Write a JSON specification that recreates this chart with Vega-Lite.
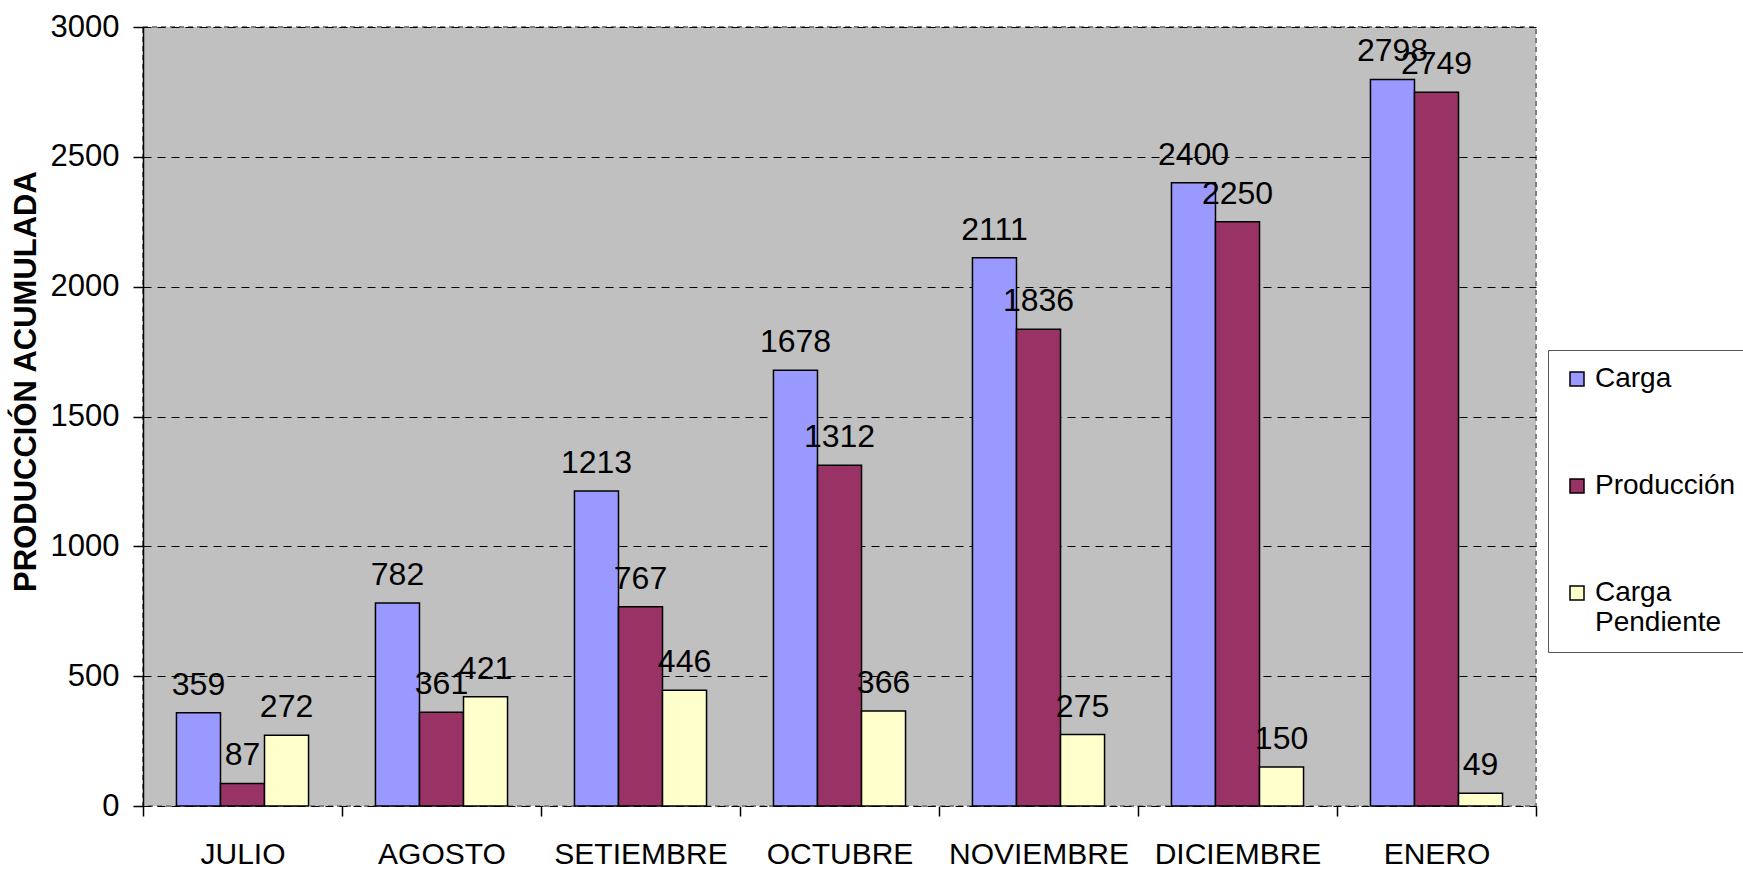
{
  "$schema": "https://vega.github.io/schema/vega-lite/v6.json",
  "autosize": {"type": "none"},
  "width": 1393,
  "height": 779,
  "padding": {"left": 143, "top": 27, "right": 207, "bottom": 66},
  "background": "white",
  "data": {"values": [
    {"mes": "JULIO", "serie": "Carga", "valor": 359},
    {"mes": "JULIO", "serie": "Producción", "valor": 87},
    {"mes": "JULIO", "serie": "Carga Pendiente", "valor": 272},
    {"mes": "AGOSTO", "serie": "Carga", "valor": 782},
    {"mes": "AGOSTO", "serie": "Producción", "valor": 361},
    {"mes": "AGOSTO", "serie": "Carga Pendiente", "valor": 421},
    {"mes": "SETIEMBRE", "serie": "Carga", "valor": 1213},
    {"mes": "SETIEMBRE", "serie": "Producción", "valor": 767},
    {"mes": "SETIEMBRE", "serie": "Carga Pendiente", "valor": 446},
    {"mes": "OCTUBRE", "serie": "Carga", "valor": 1678},
    {"mes": "OCTUBRE", "serie": "Producción", "valor": 1312},
    {"mes": "OCTUBRE", "serie": "Carga Pendiente", "valor": 366},
    {"mes": "NOVIEMBRE", "serie": "Carga", "valor": 2111},
    {"mes": "NOVIEMBRE", "serie": "Producción", "valor": 1836},
    {"mes": "NOVIEMBRE", "serie": "Carga Pendiente", "valor": 275},
    {"mes": "DICIEMBRE", "serie": "Carga", "valor": 2400},
    {"mes": "DICIEMBRE", "serie": "Producción", "valor": 2250},
    {"mes": "DICIEMBRE", "serie": "Carga Pendiente", "valor": 150},
    {"mes": "ENERO", "serie": "Carga", "valor": 2798},
    {"mes": "ENERO", "serie": "Producción", "valor": 2749},
    {"mes": "ENERO", "serie": "Carga Pendiente", "valor": 49}
  ]},
  "encoding": {
    "x": {
      "field": "mes", "type": "nominal", "sort": null,
      "scale": {"paddingInner": 0, "paddingOuter": 0},
      "axis": {
        "title": null, "labelAngle": 0, "domain": false, "grid": false,
        "tickBand": "extent", "tickColor": "black", "tickSize": 10, "tickWidth": 1.5,
        "labelFont": "Liberation Sans", "labelFontSize": 30, "labelColor": "black",
        "labelPadding": 23, "labelLimit": 0, "labelOverlap": false
      }
    },
    "xOffset": {
      "field": "serie", "type": "nominal",
      "sort": ["Carga", "Producción", "Carga Pendiente"],
      "scale": {"paddingInner": 0, "paddingOuter": 0.76}
    },
    "y": {
      "field": "valor", "type": "quantitative",
      "scale": {"domain": [0, 3000], "nice": false},
      "axis": {
        "title": "PRODUCCIÓN ACUMULADA",
        "titleFont": "Liberation Sans", "titleFontSize": 31, "titleFontWeight": "bold", "titleColor": "black",
        "titleX": -108, "titleY": 354, "titleAngle": -90, "titleAlign": "center", "titleBaseline": "alphabetic",
        "values": [0, 500, 1000, 1500, 2000, 2500, 3000],
        "format": "d",
        "labelFont": "Liberation Sans", "labelFontSize": 31, "labelColor": "black",
        "labelPadding": 14,
        "tickColor": "black", "tickSize": 10, "tickWidth": 1.5,
        "domain": true, "domainColor": "black", "domainWidth": 1.5,
        "grid": true, "gridColor": "black", "gridDash": [8, 6], "gridWidth": 1
      }
    }
  },
  "layer": [
    {
      "mark": {"type": "bar", "stroke": "black", "strokeWidth": 1.5},
      "encoding": {
        "color": {
          "field": "serie", "type": "nominal",
          "scale": {"domain": ["Carga", "Producción", "Carga Pendiente"], "range": ["#9999FF", "#993366", "#FFFFCC"]},
          "legend": {
            "title": null, "orient": "none", "legendX": 1405, "legendY": 323,
            "symbolType": "square", "symbolSize": 196, "symbolStrokeColor": "black", "symbolStrokeWidth": 1.5,
            "labelFont": "Liberation Sans", "labelFontSize": 28, "labelColor": "black",
            "labelExpr": "datum.label == 'Carga Pendiente' ? ['Carga', 'Pendiente'] : datum.label",
            "rowPadding": 79, "padding": 15, "strokeColor": "#555555",
            "labelOffset": 4
          }
        }
      }
    },
    {
      "mark": {"type": "text", "baseline": "bottom", "dy": -11, "font": "Liberation Sans", "fontSize": 32, "color": "black"},
      "encoding": {"text": {"field": "valor", "type": "quantitative"}}
    }
  ],
  "config": {
    "view": {"fill": "#C0C0C0", "stroke": "#808080", "strokeDash": [5, 4], "strokeWidth": 2}
  }
}
